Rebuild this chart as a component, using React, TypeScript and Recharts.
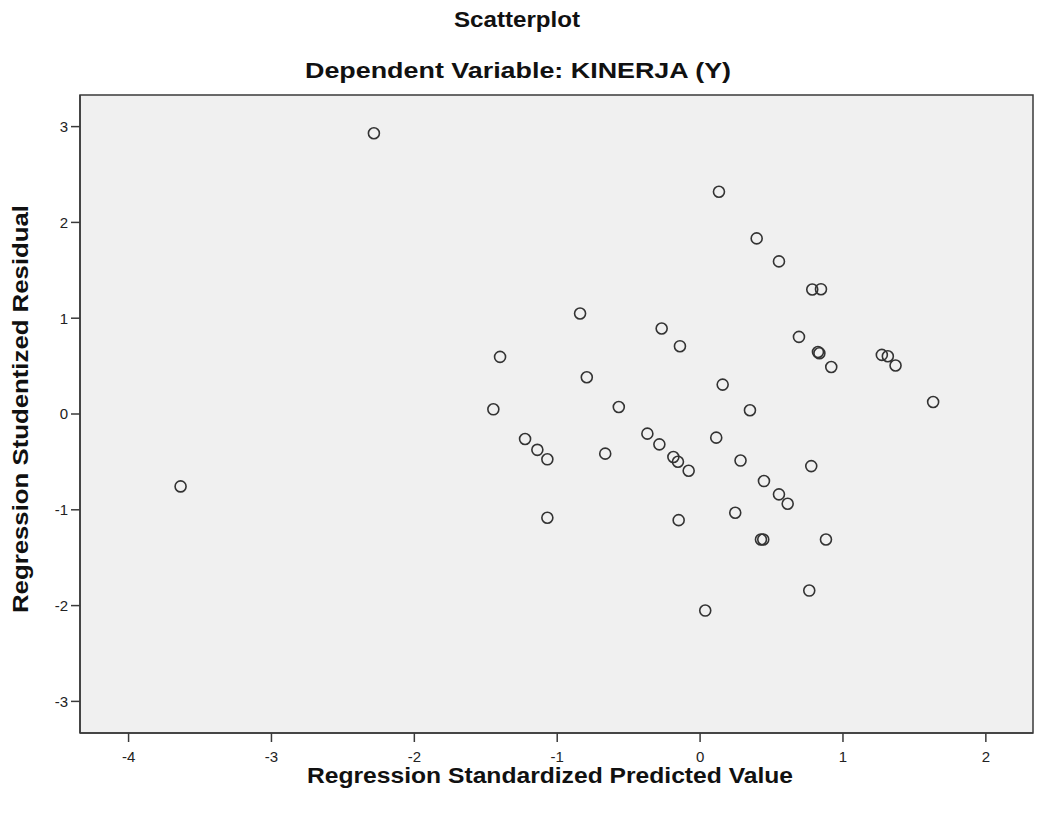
import { ScatterChart, Scatter, XAxis, YAxis, CartesianGrid, ReferenceArea } from 'recharts'

// Regression standardized predicted value (x) vs studentized residual (y)
const predicted = [
  -2.283, -3.636, 0.132, 0.396, 0.552, 0.785, 0.846, -0.84, -0.269, -0.141,
  0.692, 0.825, 0.835, 1.272, 1.314, 1.368, 0.918, -1.4, -0.793, 0.158,
  -1.447, -0.569, 0.349, 1.631, -0.369, -1.225, -0.285, 0.113, -1.139, -1.069,
  -0.664, -0.187, -0.155, -0.08, 0.283, 0.778, 0.447, 0.552, 0.613, -1.069,
  -0.15, 0.246, 0.426, 0.442, 0.881, 0.764, 0.036,
]
const residual = [
  2.931, -0.756, 2.32, 1.833, 1.593, 1.3, 1.303, 1.049, 0.893, 0.708,
  0.805, 0.647, 0.634, 0.617, 0.603, 0.506, 0.491, 0.596, 0.384, 0.307,
  0.049, 0.073, 0.039, 0.125, -0.205, -0.261, -0.317, -0.247, -0.374, -0.473,
  -0.414, -0.449, -0.498, -0.592, -0.486, -0.544, -0.7, -0.839, -0.937, -1.083,
  -1.108, -1.031, -1.31, -1.31, -1.31, -1.843, -2.052,
]

const xTicks = [-4, -3, -2, -1, 0, 1, 2]
const yTicks = [-3, -2, -1, 0, 1, 2, 3]
const xDomain: [number, number] = [-4.34, 2.33]
const yDomain: [number, number] = [-3.33, 3.33]

const title = 'Scatterplot'
const subtitle = 'Dependent Variable: KINERJA (Y)'
const xLabel = 'Regression Standardized Predicted Value'
const yLabel = 'Regression Studentized Residual'

const data = predicted.map((x, i) => ({ x, y: residual[i] }))

const FONT = '"Liberation Sans", Arial, sans-serif'
const INK = '#3a3a3a'

const Ring = (props: any) => (
  <circle cx={props.cx} cy={props.cy} r={5.5} fill="none" stroke="#333" strokeWidth={1.6} />
)

export default function App() {
  const tick = { fontSize: 15, fill: '#222', fontFamily: FONT }
  const heading = { fontFamily: FONT, fontWeight: 'bold' as const, fill: '#111', textAnchor: 'middle' as const }
  return (
    <div style={{ position: 'absolute', left: 0, top: 0, width: 1037, height: 815, background: '#fff' }}>
      <ScatterChart width={1037} height={815} margin={{ top: 95, right: 4, bottom: 52, left: 40 }}>
        <CartesianGrid horizontal={false} vertical={false} fill="#f0f0f0" />
        <XAxis
          type="number"
          dataKey="x"
          domain={xDomain}
          ticks={xTicks}
          allowDataOverflow
          height={30}
          tick={tick}
          tickSize={9}
          tickMargin={9}
          tickLine={{ stroke: INK, strokeWidth: 1.5 }}
          axisLine={{ stroke: INK, strokeWidth: 1.5 }}
        />
        <YAxis
          type="number"
          dataKey="y"
          domain={yDomain}
          ticks={yTicks}
          allowDataOverflow
          width={40}
          tick={tick}
          tickSize={9}
          tickMargin={3}
          tickLine={{ stroke: INK, strokeWidth: 1.5 }}
          axisLine={{ stroke: INK, strokeWidth: 1.5 }}
        />
        <ReferenceArea x1={xDomain[0]} x2={xDomain[1]} y1={yDomain[0]} y2={yDomain[1]} fill="none" stroke={INK} strokeWidth={1.5} />
        <Scatter data={data} shape={Ring} isAnimationActive={false} />
      </ScatterChart>

      {/* titles sit outside the plot, drawn as an svg overlay */}
      <svg width={1037} height={815} style={{ position: 'absolute', left: 0, top: 0, pointerEvents: 'none' }}>
        <text x={517} y={27} fontSize={22} textLength={126} lengthAdjust="spacingAndGlyphs" {...heading}>{title}</text>
        <text x={518} y={78} fontSize={22} textLength={426} lengthAdjust="spacingAndGlyphs" {...heading}>{subtitle}</text>
        <text x={550} y={783} fontSize={22} textLength={486} lengthAdjust="spacingAndGlyphs" {...heading}>{xLabel}</text>
        <text
          x={0}
          y={0}
          fontSize={22}
          textLength={408}
          lengthAdjust="spacingAndGlyphs"
          transform="translate(28 409) rotate(-90)"
          {...heading}
        >
          {yLabel}
        </text>
      </svg>
    </div>
  )
}
